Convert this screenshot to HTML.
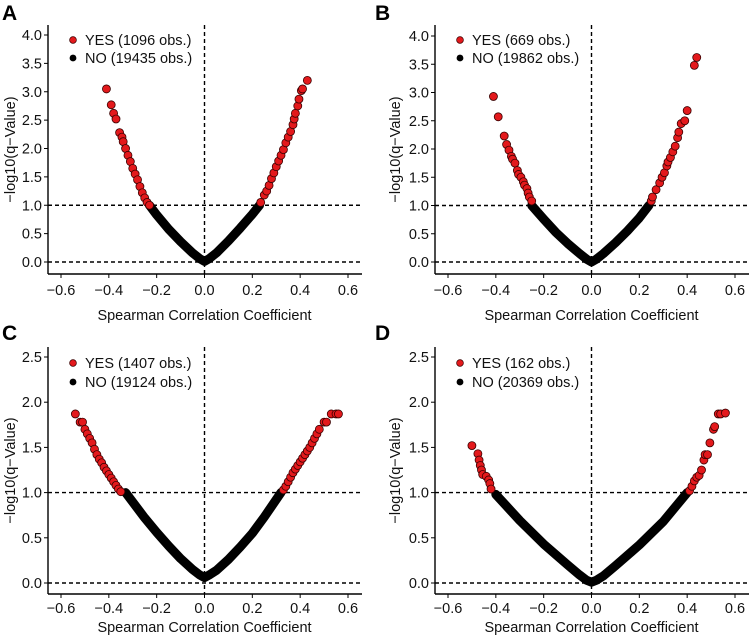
<!DOCTYPE html>
<html><head><meta charset="utf-8"><style>
body{margin:0;background:#fff;}
svg{display:block;font-family:"Liberation Sans",Arial,sans-serif;}
</style></head><body>
<svg id="fig" width="750" height="635" viewBox="0 0 750 635" xmlns="http://www.w3.org/2000/svg"></svg>
<script>
// ---- data (x = Spearman r, y = -log10 q) ----
const xTicks = [-0.6,-0.4,-0.2,0.0,0.2,0.4,0.6];
const yTicksAB = [0,0.5,1,1.5,2,2.5,3,3.5,4];
const yTicksCD = [0,0.5,1,1.5,2,2.5];
const panelLetters = ["A","B","C","D"];
const yesCounts = [1096,669,1407,162];
const noCounts = [19435,19862,19124,20369];

const aNoX = [-0.23,-0.2,-0.15,-0.1,-0.05,-0.02,0,0.02,0.05,0.1,0.15,0.2,0.23];
const aNoY = [1.0,0.83,0.58,0.36,0.16,0.06,0.01,0.06,0.16,0.37,0.6,0.84,1.0];
const aYesX = [-0.41,-0.39,-0.38,-0.37,-0.355,-0.345,-0.34,-0.33,-0.32,-0.31,-0.3,-0.29,-0.28,-0.27,-0.26,-0.25,-0.24,-0.23,0.235,0.25,0.26,0.27,0.28,0.29,0.3,0.31,0.32,0.33,0.34,0.35,0.36,0.37,0.375,0.38,0.39,0.395,0.405,0.41,0.43];
const aYesY = [3.05,2.77,2.62,2.52,2.28,2.2,2.12,2.0,1.88,1.77,1.65,1.55,1.45,1.33,1.22,1.13,1.05,1.0,1.05,1.18,1.25,1.35,1.47,1.57,1.68,1.78,1.88,1.98,2.1,2.2,2.3,2.42,2.52,2.62,2.75,2.87,3.02,3.05,3.2];

const bNoX = [-0.25,-0.2,-0.15,-0.1,-0.05,-0.02,0,0.02,0.05,0.1,0.15,0.2,0.24];
const bNoY = [1.0,0.76,0.53,0.33,0.15,0.05,0.0,0.05,0.15,0.34,0.55,0.78,1.0];
const bYesX = [-0.41,-0.39,-0.365,-0.355,-0.345,-0.335,-0.33,-0.32,-0.31,-0.305,-0.295,-0.285,-0.28,-0.27,-0.265,-0.26,-0.25,0.25,0.255,0.27,0.285,0.295,0.305,0.315,0.32,0.33,0.34,0.35,0.36,0.365,0.375,0.39,0.4,0.43,0.44];
const bYesY = [2.93,2.57,2.23,2.08,1.98,1.87,1.82,1.75,1.62,1.55,1.5,1.42,1.36,1.3,1.22,1.15,1.08,1.08,1.15,1.28,1.4,1.5,1.58,1.7,1.77,1.85,1.95,2.05,2.2,2.3,2.45,2.5,2.68,3.48,3.62];

const cNoX = [-0.33,-0.25,-0.2,-0.15,-0.1,-0.05,-0.02,0,0.02,0.05,0.1,0.15,0.2,0.25,0.32];
const cNoY = [1.0,0.72,0.56,0.41,0.27,0.15,0.09,0.06,0.09,0.14,0.26,0.4,0.55,0.73,1.0];
const cYesX = [-0.54,-0.52,-0.51,-0.5,-0.49,-0.48,-0.47,-0.46,-0.45,-0.44,-0.43,-0.42,-0.41,-0.4,-0.39,-0.38,-0.37,-0.36,-0.35,0.33,0.34,0.35,0.36,0.37,0.38,0.39,0.4,0.41,0.42,0.43,0.44,0.45,0.46,0.47,0.48,0.5,0.51,0.53,0.55,0.56];
const cYesY = [1.87,1.78,1.78,1.7,1.65,1.6,1.55,1.48,1.42,1.37,1.33,1.28,1.24,1.2,1.16,1.12,1.08,1.04,1.01,1.03,1.07,1.12,1.17,1.22,1.26,1.3,1.34,1.38,1.42,1.46,1.5,1.55,1.6,1.65,1.7,1.78,1.78,1.87,1.87,1.87];

const dNoX = [-0.4,-0.3,-0.2,-0.1,-0.05,-0.02,0,0.02,0.05,0.1,0.2,0.3,0.4];
const dNoY = [0.98,0.69,0.43,0.2,0.09,0.03,0.01,0.03,0.08,0.19,0.42,0.68,1.0];
const dYesX = [-0.5,-0.475,-0.47,-0.465,-0.46,-0.455,-0.44,-0.43,-0.425,-0.42,0.41,0.42,0.43,0.44,0.45,0.46,0.47,0.475,0.485,0.495,0.51,0.515,0.53,0.54,0.56];
const dYesY = [1.52,1.43,1.36,1.3,1.25,1.2,1.18,1.14,1.1,1.04,1.02,1.07,1.13,1.17,1.19,1.25,1.36,1.42,1.42,1.55,1.7,1.73,1.87,1.87,1.88];

const noXs=[aNoX,bNoX,cNoX,dNoX], noYs=[aNoY,bNoY,cNoY,dNoY];
const yesXs=[aYesX,bYesX,cYesX,dYesX], yesYs=[aYesY,bYesY,cYesY,dYesY];

// ---- layout ----
const NS="http://www.w3.org/2000/svg";
const svg=document.getElementById('fig');
function mk(tag,attrs,parent,text){const e=document.createElementNS(NS,tag);for(const k in attrs)e.setAttribute(k,attrs[k]);if(text!==undefined)e.textContent=text;(parent||svg).appendChild(e);return e;}

const FS=14.5;
const panels=[
 {ox:0,top:25,axisY:274,y0:262,yTop:35,yMax:4,ticks:yTicksAB,tickLab:290,title:315,letterY:20},
 {ox:387,top:25,axisY:274,y0:262,yTop:36,yMax:4,ticks:yTicksAB,tickLab:290,title:315,letterY:20},
 {ox:0,top:347,axisY:594,y0:583,yTop:357,yMax:2.5,ticks:yTicksCD,tickLab:608,title:627,letterY:340},
 {ox:387,top:347,axisY:594,y0:583,yTop:357,yMax:2.5,ticks:yTicksCD,tickLab:608,title:627,letterY:340}
];

panels.forEach((p,i)=>{
  const g=mk('g',{});
  
  
  const axX=48+p.ox, right=362+p.ox;
  const sx=v=>204.5+p.ox+v*(287/1.2);
  const sy=v=>p.y0-v*(p.y0-p.yTop)/p.yMax;

  const L=mk('text',{x:2+(i%2?373:0),y:p.letterY,'font-size':21,'font-weight':'bold',fill:'#000'},g,panelLetters[i]);
  
  

  // black NO band
  let d='';
  noXs[i].forEach((x,j)=>{d+=(j?'L':'M')+sx(x).toFixed(1)+' '+sy(noYs[i][j]).toFixed(1);});
  const band=mk('path',{d:d,fill:'none',stroke:'#000','stroke-width':9,'stroke-linejoin':'round','stroke-linecap':'round'},g);
  
  

  // dashed refs
  const dash={stroke:'#000','stroke-width':1.4,'stroke-dasharray':'4 3',fill:'none'};
  const h0=mk('line',Object.assign({x1:axX,x2:right,y1:sy(0),y2:sy(0)},dash),g);
  
  
  const h1=mk('line',Object.assign({x1:axX,x2:right,y1:sy(1),y2:sy(1)},dash),g);
  
  
  const v0=mk('line',Object.assign({x1:sx(0),x2:sx(0),y1:p.top,y2:p.axisY},dash),g);
  
  

  // red YES points
  yesXs[i].forEach((x,j)=>{
    const c=mk('circle',{cx:sx(x),cy:sy(yesYs[i][j]),r:4,fill:'#e3191c',stroke:'#3a0000','stroke-width':0.8},g);
    
    
  });

  // axes
  const ya=mk('line',{x1:axX,x2:axX,y1:p.top,y2:p.axisY,stroke:'#000','stroke-width':1.4},g);
  
  
  const xa=mk('line',{x1:axX,x2:right,y1:p.axisY,y2:p.axisY,stroke:'#000','stroke-width':1.4},g);
  
  

  p.ticks.forEach(t=>{
    mk('line',{x1:axX-4,x2:axX,y1:sy(t),y2:sy(t),stroke:'#000','stroke-width':1},g);
    const tl=mk('text',{x:axX-6,y:sy(t)+5,'text-anchor':'end','font-size':FS,fill:'#111'},g,t.toFixed(1));
    
    
  });
  xTicks.forEach(t=>{
    mk('line',{x1:sx(t),x2:sx(t),y1:p.axisY,y2:p.axisY+4,stroke:'#000','stroke-width':1},g);
    const tl=mk('text',{x:sx(t),y:p.tickLab+5,'text-anchor':'middle','font-size':FS,fill:'#111'},g,(t<0?'\u2212':'')+Math.abs(t).toFixed(1));
    
    
  });
  const xt=mk('text',{x:204.5+p.ox,y:p.title+5,'text-anchor':'middle','font-size':FS,fill:'#111'},g,'Spearman Correlation Coefficient');
  
  
  const cy=(p.top+p.axisY)/2;
  const yt=mk('text',{x:0,y:0,transform:`translate(${15+p.ox+(i%2?-2:0)},${cy}) rotate(-90)`,'text-anchor':'middle','font-size':FS,fill:'#111'},g,'\u2212log10(q\u2212Value)');
  
  

  // legend
  const ly1=(i<2?40:363), ly2=(i<2?58:382), lx=73+p.ox;
  const lg=mk('g',{},g);
  
  
  mk('circle',{cx:lx,cy:ly1,r:3.4,fill:'#e3191c',stroke:'#3a0000','stroke-width':0.7},lg);
  const t1=mk('text',{x:lx+12,y:ly1+5,'font-size':FS,fill:'#111'},lg,`YES (${yesCounts[i]} obs.)`);
  
  
  mk('circle',{cx:lx,cy:ly2,r:3.4,fill:'#000'},lg);
  const t2=mk('text',{x:lx+12,y:ly2+5,'font-size':FS,fill:'#111'},lg,`NO (${noCounts[i]} obs.)`);
  
  
});
</script>
</body></html>
